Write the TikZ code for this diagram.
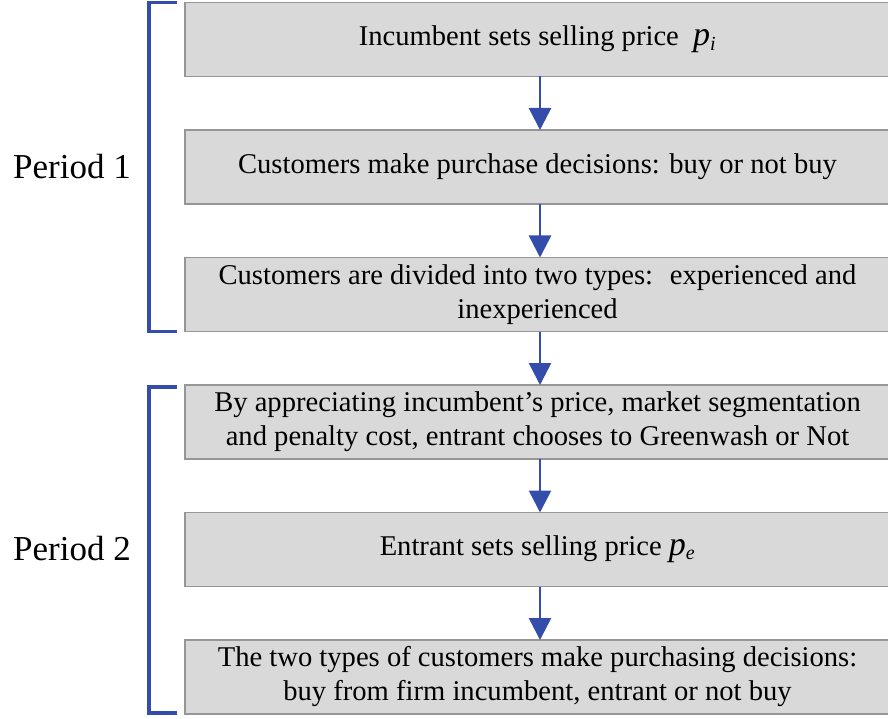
\documentclass[tikz,border=0pt]{standalone}
\usepackage{fontspec}
\setmainfont{Liberation Serif}
\usepackage{xcolor}
\usetikzlibrary{arrows.meta,positioning}
\definecolor{stageGray}{RGB}{217,217,217}
\definecolor{stageEdge}{RGB}{150,150,150}
\definecolor{flowBlue}{RGB}{52,76,170}
\tikzset{
  stagebox/.style={draw=stageEdge,line width=1.6pt,fill=stageGray,minimum width=705pt,minimum height=74pt,inner sep=2pt,outer sep=0pt,align=center,font=\fontsize{28.6}{34}\selectfont},
  flowarrow/.style={-{Triangle[width=22pt,length=22pt]},line width=2.6pt,draw=flowBlue,fill=flowBlue},
  periodbrace/.style={line width=3.4pt,draw=flowBlue},
  periodlabel/.style={font=\fontsize{35}{40}\selectfont}
}
\newcommand{\pricevar}[1]{{\fontsize{34}{34}\selectfont\itshape p}\textsubscript{\itshape #1}}

\begin{document}
\begin{tikzpicture}[x=1pt,y=-1pt,node distance=53.5pt]
\useasboundingbox (0,0) rectangle (888,719);
\node[stagebox] (b1) at (537.5,39.5) {Incumbent sets selling price \ \pricevar{i}};
\node[stagebox,below=of b1] (b2) {Customers make purchase decisions: buy or not buy};
\node[stagebox,below=of b2] (b3) {Customers are divided into two types: \ experienced and\\inexperienced};
\node[stagebox,below=of b3] (b4) {By appreciating incumbent's price, market segmentation\\and penalty cost, entrant chooses to Greenwash or Not};
\node[stagebox,below=of b4] (b5) {Entrant sets selling price \pricevar{e}};
\node[stagebox,below=of b5] (b6) {The two types of customers make purchasing decisions:\\buy from firm incumbent, entrant or not buy};
\draw[flowarrow] ([xshift=2.5pt]b1.south) -- ([xshift=2.5pt]b2.north);
\draw[flowarrow] ([xshift=2.5pt]b2.south) -- ([xshift=2.5pt]b3.north);
\draw[flowarrow] ([xshift=2.5pt]b3.south) -- ([xshift=2.5pt]b4.north);
\draw[flowarrow] ([xshift=2.5pt]b4.south) -- ([xshift=2.5pt]b5.north);
\draw[flowarrow] ([xshift=2.5pt]b5.south) -- ([xshift=2.5pt]b6.north);
% period brackets
\draw[periodbrace] ([xshift=-8pt]b1.north west) -| ([xshift=-36pt]b3.south west) -- ([xshift=-8pt]b3.south west);
\draw[periodbrace] ([xshift=-8pt,yshift=-2pt]b4.north west) -| ([xshift=-36pt,yshift=1pt]b6.south west) -- ([xshift=-8pt,yshift=1pt]b6.south west);
\node[periodlabel] (p1) at (72,167) {Period 1};
\node[periodlabel] (p2) at (72,549) {Period 2};
\end{tikzpicture}
\end{document}
